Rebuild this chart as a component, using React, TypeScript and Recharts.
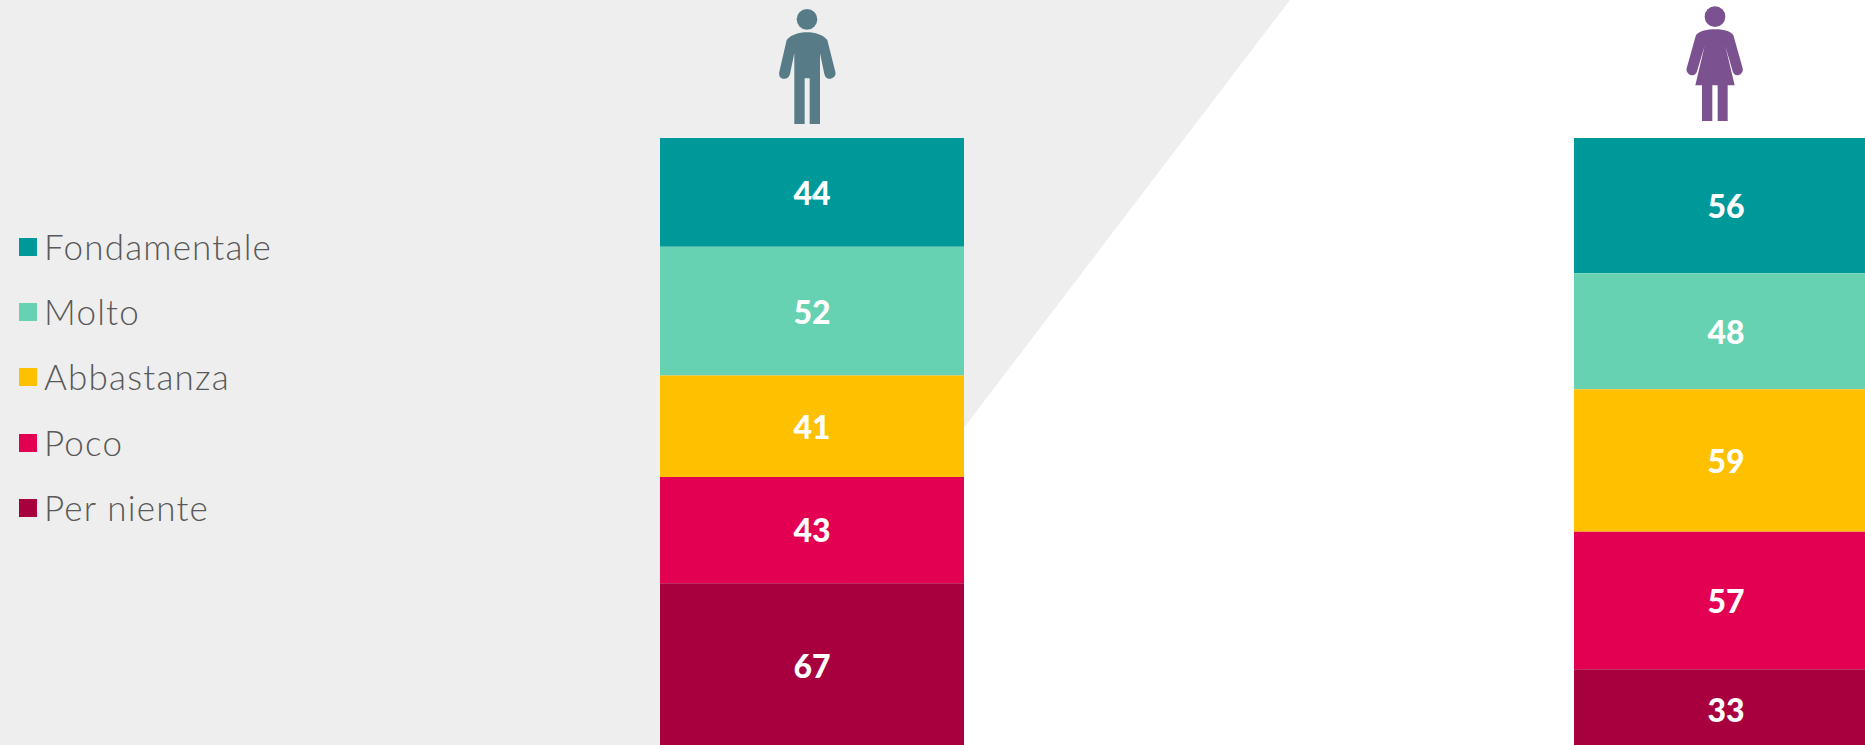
import { BarChart, Bar, XAxis, YAxis, Legend, LabelList } from "recharts";

const groups = ["Uomini", "Donne"];
const fondamentale = [44, 56];
const molto = [52, 48];
const abbastanza = [41, 59];
const poco = [43, 57];
const perNiente = [67, 33];

const series = [
  { name: "Fondamentale", values: fondamentale, color: "#009999" },
  { name: "Molto", values: molto, color: "#66D2B2" },
  { name: "Abbastanza", values: abbastanza, color: "#FFC000" },
  { name: "Poco", values: poco, color: "#E30052" },
  { name: "Per niente", values: perNiente, color: "#A8003F" },
];

const data = groups.map((group, i) => {
  const row: Record<string, string | number> = { group };
  series.forEach((s) => {
    row[s.name] = s.values[i];
  });
  return row;
});

function LegendList({ payload }: any) {
  return (
    <div style={{ fontFamily: "Lato", fontWeight: 300, fontSize: 35, color: "#595959" }}>
      {(payload || []).map((item: any) => (
        <div
          key={item.value}
          style={{ position: "absolute", left: 19, top: 238 + 65.2 * series.findIndex((s) => s.name === item.value), height: 18 }}
        >
          <div style={{ position: "absolute", left: 0, top: 0, width: 18, height: 18, background: item.color }} />
          <div style={{ position: "absolute", left: 25, top: -12, lineHeight: "40px", whiteSpace: "nowrap", letterSpacing: 1.2 }}>
            {item.value}
          </div>
        </div>
      ))}
    </div>
  );
}

export default function App() {
  return (
    <div style={{ position: "absolute", left: 0, top: 0, width: 1865, height: 745, overflow: "hidden", background: "#fff" }}>
      <svg width={1865} height={745} style={{ position: "absolute", left: 0, top: 0 }}>
        <polygon points="0,0 1290,0 722,745 0,745" fill="#EEEEEE" />
        <g transform="translate(740,0) scale(0.3333)" fill="#577C88">
          <circle cx={201} cy={58} r={31} />
          <path d="M201 97C225 97 250 105 262 120L286 215C290 230 275 238 265 236C258 235 255 228 253 222L240 160L240 372L209 372L209 235L194 235L194 372L163 372L163 160L150 222C148 230 143 236 135 236C122 238 115 228 118 215L140 120C152 105 177 97 201 97Z" />
        </g>
        <g transform="translate(1650,0) scale(0.3333)" fill="#7B5190">
          <circle cx={195} cy={50} r={31} />
          <path d="M195 88C218 88 240 93 250 105L278 205C281 218 270 226 262 226C254 226 250 220 248 214L226 138L254 256L233 256L233 363L203 363L203 256L187 256L187 363L156 363L156 256L136 256L164 138L141 214C139 220 135 226 127 226C118 226 107 218 110 205L138 105C150 93 172 88 195 88Z" />
        </g>
      </svg>
      <div style={{ position: "absolute", left: 0, top: 0 }}>
        <BarChart
          width={2183}
          height={749}
          data={data}
          stackOffset="expand"
          margin={{ top: 138, right: 0, bottom: 0, left: 0 }}
        >
          <XAxis dataKey="group" hide />
          <YAxis hide reversed domain={[0, 1]} />
          <Legend
            layout="vertical"
            align="left"
            verticalAlign="top"
            width={355}
            itemSorter={null}
            wrapperStyle={{ left: 0, top: 0 }}
            content={<LegendList />}
          />
          {series.map((s) => (
            <Bar key={s.name} dataKey={s.name} stackId="a" fill={s.color} barSize={304} isAnimationActive={false}>
              <LabelList
                dataKey={s.name}
                position="center"
                fill="#fff"
                dy={1}
                style={{ fontFamily: "Lato", fontWeight: 900, fontSize: 32 }}
              />
            </Bar>
          ))}
        </BarChart>
      </div>
    </div>
  );
}
